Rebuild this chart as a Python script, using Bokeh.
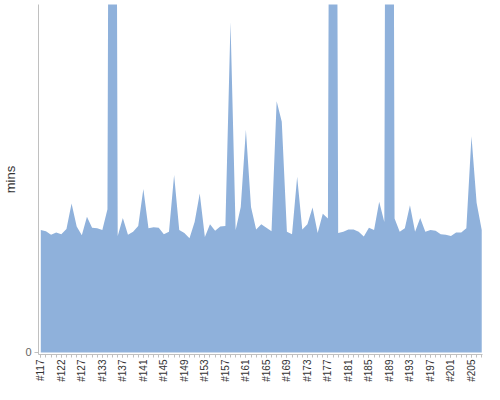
from math import pi
from bokeh.plotting import figure
from bokeh.models import Range1d, FixedTicker, ColumnDataSource
from bokeh.embed import file_html
from bokeh.resources import INLINE

# category labels (build numbers)
builds = [117, 118, 119, 120, 122, 123, 124, 125, 127, 128, 130, 131] + list(range(133, 208))
categories = ["#%d" % b for b in builds]

# duration in minutes
values = [
    21.1, 20.9, 20.3, 20.7, 20.4, 21.3, 25.7, 21.7, 20.2, 23.4,
    21.5, 21.4, 21.1, 24.7, 320.0, 20.1, 23.2, 20.3, 20.8, 21.8,
    28.2, 21.4, 21.6, 21.5, 20.4, 20.8, 30.6, 21.1, 20.6, 19.7,
    22.5, 27.4, 19.9, 22.1, 21.0, 21.7, 21.8, 57.0, 21.1, 25.1,
    38.4, 25.1, 21.2, 22.1, 21.5, 20.9, 43.3, 39.8, 20.8, 20.4,
    30.3, 21.2, 22.1, 25.0, 20.6, 23.9, 23.1, 300.0, 20.6, 20.8,
    21.2, 21.2, 20.8, 20.0, 21.5, 21.1, 26.0, 22.5, 340.0, 23.1,
    20.8, 21.4, 25.4, 20.8, 23.2, 20.8, 21.1, 21.0, 20.4, 20.3,
    20.1, 20.7, 20.7, 21.4, 37.3, 25.8, 21.1,
]
label_every = 4
y_label = "mins"

xs = list(range(len(categories)))
src = ColumnDataSource(dict(x=xs, y=values, base=[0] * len(values)))

p = figure(width=484, height=384, output_backend="svg", toolbar_location=None,
           x_range=Range1d(-0.45, len(categories) - 0.85),
           y_range=Range1d(-0.35, 60),
           min_border_left=30, min_border_right=2, min_border_top=4, min_border_bottom=0)
p.outline_line_color = None
p.grid.visible = False
p.background_fill_color = "white"

p.varea(x="x", y1="base", y2="y", source=src, fill_color="#8FB1DB", fill_alpha=1.0)

# x axis
p.xaxis.ticker = FixedTicker(ticks=xs[::label_every], minor_ticks=xs)
p.xaxis.major_label_overrides = {i: categories[i] for i in xs[::label_every]}
p.xaxis.major_label_orientation = pi / 2
p.xaxis.major_label_text_font = "Liberation Sans"
p.xaxis.major_label_text_font_size = "10px"
p.xaxis.major_label_text_color = "#333333"
p.xaxis.major_label_standoff = 2
p.xaxis.axis_label_standoff = 0
p.xaxis.axis_line_color = "#C0C0C0"
p.xaxis.major_tick_line_color = "#C0C0C0"
p.xaxis.minor_tick_line_color = "#C0C0C0"
p.xaxis.major_tick_in = 0
p.xaxis.major_tick_out = 3
p.xaxis.minor_tick_in = 0
p.xaxis.minor_tick_out = 3

# y axis
p.yaxis.ticker = FixedTicker(ticks=[0], minor_ticks=[])
p.yaxis.axis_label = y_label
p.yaxis.axis_label_text_font = "Liberation Sans"
p.yaxis.axis_label_text_font_size = "13px"
p.yaxis.axis_label_text_font_style = "normal"
p.yaxis.axis_label_text_color = "#333333"
p.yaxis.axis_label_standoff = 4
p.yaxis.major_label_text_font = "Liberation Sans"
p.yaxis.major_label_text_font_size = "11px"
p.yaxis.major_label_text_color = "#666666"
p.yaxis.major_label_standoff = 3
p.yaxis.axis_line_color = "#C0C0C0"
p.yaxis.major_tick_line_color = "#C0C0C0"
p.yaxis.major_tick_in = 0
p.yaxis.major_tick_out = 4

open("out.html", "w").write(file_html(p, INLINE))
